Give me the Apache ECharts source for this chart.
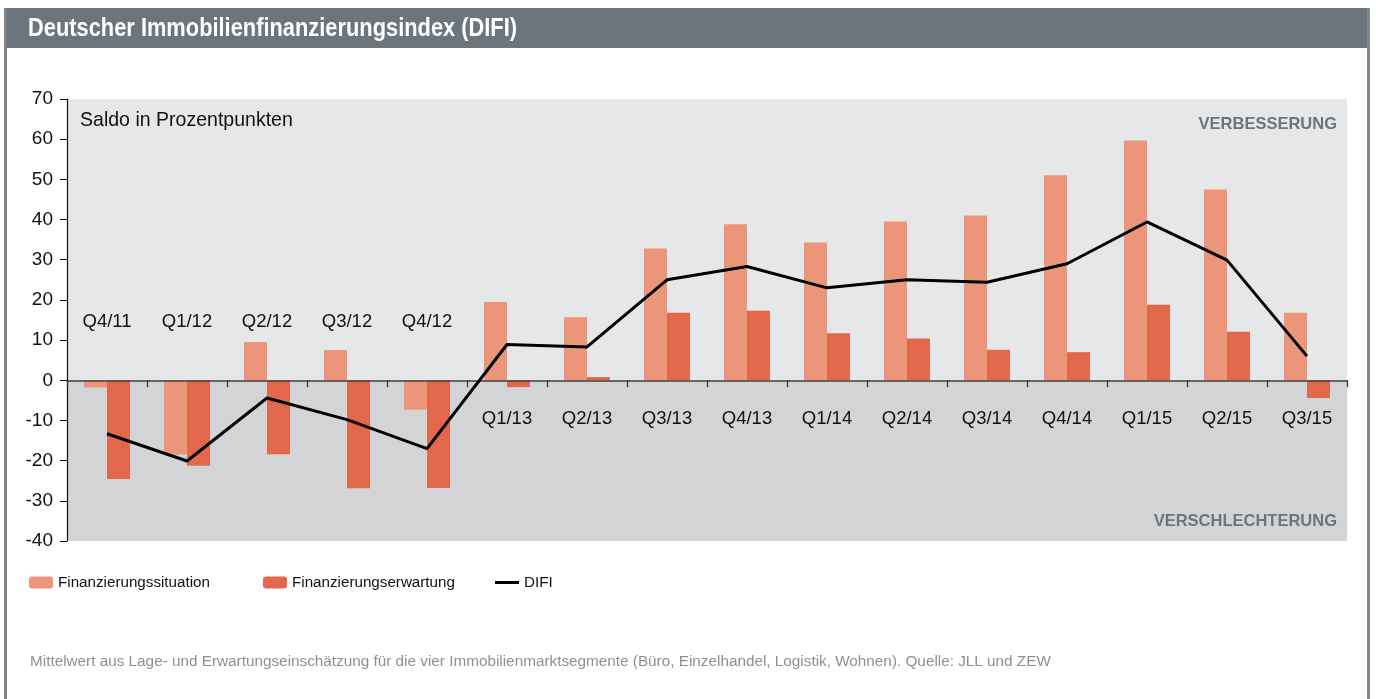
<!DOCTYPE html>
<html>
<head>
<meta charset="utf-8">
<script src="https://cdn.jsdelivr.net/npm/echarts@6/dist/echarts.min.js"></script>
<style>
html,body{margin:0;padding:0;background:#fff;}
#chart{width:1376px;height:699px;}
</style>
</head>
<body>
<div id="chart"></div>
<script>
// ---- data ----
const categories = ['Q4/11','Q1/12','Q2/12','Q3/12','Q4/12','Q1/13','Q2/13','Q3/13','Q4/13','Q1/14','Q2/14','Q3/14','Q4/14','Q1/15','Q2/15','Q3/15'];
const situation = [-1.8, -18.5, 9.5, 7.5, -7.3, 19.5, 15.7, 32.8, 38.8, 34.3, 39.5, 41.0, 51.0, 59.7, 47.5, 16.8];
const erwartung = [-24.6, -21.3, -18.4, -26.9, -26.8, -1.7, 0.8, 16.8, 17.3, 11.7, 10.4, 7.6, 7.0, 18.8, 12.1, -4.4];
const difi = [-13.3, -20.1, -4.4, -9.8, -17.0, 8.9, 8.3, 25.0, 28.3, 23.0, 25.0, 24.4, 29.0, 39.4, 29.9, 6.0];
const yTicks = { min: -40, max: 70, interval: 10 };
const seriesNames = ['Finanzierungssituation', 'Finanzierungserwartung', 'DIFI'];
const titleText = 'Deutscher Immobilienfinanzierungsindex (DIFI)';
const unitText = 'Saldo in Prozentpunkten';
const upperNote = 'VERBESSERUNG';
const lowerNote = 'VERSCHLECHTERUNG';
const footnote = 'Mittelwert aus Lage- und Erwartungseinschätzung für die vier Immobilienmarktsegmente (Büro, Einzelhandel, Logistik, Wohnen). Quelle: JLL und ZEW';

// ---- style ----
const SANS = "'Liberation Sans',Arial,Helvetica,sans-serif";
const C_LIGHT = '#eb9579';
const C_DARK = '#e3674b';
const C_HEAD = '#6b757b';
const GRID = { left: 67, top: 99, right: 29, bottom: 158 };
const gridH = 699 - GRID.top - GRID.bottom;
// place the category axes on the zero line of the value axis
const zeroFromBottom = (0 - yTicks.min) / (yTicks.max - yTicks.min) * gridH;
const zeroFromTop = gridH - zeroFromBottom;

const chart = echarts.init(document.getElementById('chart'), null, { renderer: 'canvas' });

const legendBase = { top: 575, padding: 0, itemWidth: 24, itemHeight: 12, itemGap: 0,
  textStyle: { fontFamily: SANS, fontSize: 15.2, color: '#111' } };

const option = {
  animation: false,
  backgroundColor: '#ffffff',
  grid: Object.assign({ show: true, backgroundColor: '#e6e7e9', borderWidth: 0 }, GRID),
  xAxis: [
    {
      type: 'category', data: categories, position: 'bottom', offset: -zeroFromBottom, z: 5,
      axisLine: { onZero: false, lineStyle: { color: '#404040', width: 1.5 } },
      axisTick: { show: true, length: 7, lineStyle: { color: '#303030', width: 1.2 } },
      axisLabel: {
        margin: 29, color: '#111', fontFamily: SANS, fontSize: 18.5,
        formatter: (v, i) => (difi[i] < 0 ? '' : v)
      },
      splitLine: { show: false }
    },
    {
      type: 'category', data: categories, position: 'top', offset: -zeroFromTop, z: 5,
      axisLine: { show: false, onZero: false },
      axisTick: { show: false },
      axisLabel: {
        margin: 49, color: '#111', fontFamily: SANS, fontSize: 18.5,
        formatter: (v, i) => (difi[i] < 0 ? v : '')
      },
      splitLine: { show: false }
    }
  ],
  yAxis: {
    type: 'value', min: yTicks.min, max: yTicks.max, interval: yTicks.interval, z: 5,
    axisLine: { show: true, onZero: false, lineStyle: { color: '#111', width: 1.2 } },
    axisTick: { show: true, length: 7, lineStyle: { color: '#111' } },
    axisLabel: { margin: 14, color: '#111', fontFamily: SANS, fontSize: 19 },
    splitLine: { show: false }
  },
  legend: [
    Object.assign({}, legendBase, { left: 29, data: [seriesNames[0]] }),
    Object.assign({}, legendBase, { left: 263, data: [seriesNames[1]] }),
    Object.assign({}, legendBase, { left: 495, itemHeight: 3, data: [{ name: seriesNames[2], icon: 'rect' }] })
  ],
  series: [
    {
      name: '__bg', type: 'line', data: [], silent: true, z: 0,
      markArea: {
        silent: true,
        itemStyle: { color: '#d3d4d6' },
        data: [[{ yAxis: yTicks.min }, { yAxis: 0 }]]
      }
    },
    {
      name: seriesNames[0], type: 'bar', data: situation, barWidth: 23, barGap: '0%', z: 2,
      itemStyle: { color: C_LIGHT }
    },
    {
      name: seriesNames[1], type: 'bar', data: erwartung, barWidth: 23, barGap: '0%', z: 2,
      itemStyle: { color: C_DARK }
    },
    {
      name: seriesNames[2], type: 'line', data: difi, z: 6, symbol: 'none', showSymbol: false,
      lineStyle: { color: '#000', width: 3 }, itemStyle: { color: '#000' }
    }
  ],
  graphic: [
    { type: 'rect', silent: true, shape: { x: 4, y: 8, width: 1366, height: 40 }, style: { fill: C_HEAD }, z: 10 },
    { type: 'rect', silent: true, shape: { x: 4, y: 8, width: 3, height: 700 }, style: { fill: '#7d868c' }, z: 10 },
    { type: 'rect', silent: true, shape: { x: 1367, y: 8, width: 3, height: 700 }, style: { fill: '#7d868c' }, z: 10 },
    { type: 'text', silent: true, x: 28, y: 29, scaleX: 0.84, z: 11,
      style: { text: titleText, fill: '#fff', font: "bold 26px " + SANS, verticalAlign: 'middle' } },
    { type: 'text', silent: true, x: 80, y: 120, scaleX: 0.93, z: 11,
      style: { text: unitText, fill: '#111', font: "21px " + SANS, verticalAlign: 'middle' } },
    { type: 'text', silent: true, x: 1337, y: 124, z: 11,
      style: { text: upperNote, fill: C_HEAD, font: "bold 16.5px " + SANS, align: 'right', verticalAlign: 'middle' } },
    { type: 'text', silent: true, x: 1337, y: 521, z: 11,
      style: { text: lowerNote, fill: C_HEAD, font: "bold 16.5px " + SANS, align: 'right', verticalAlign: 'middle' } },
    { type: 'text', silent: true, x: 30, y: 662, z: 11,
      style: { text: footnote, fill: '#8a9196', font: "15.3px " + SANS, verticalAlign: 'middle' } }
  ]
};
chart.setOption(option);
</script>
</body>
</html>
